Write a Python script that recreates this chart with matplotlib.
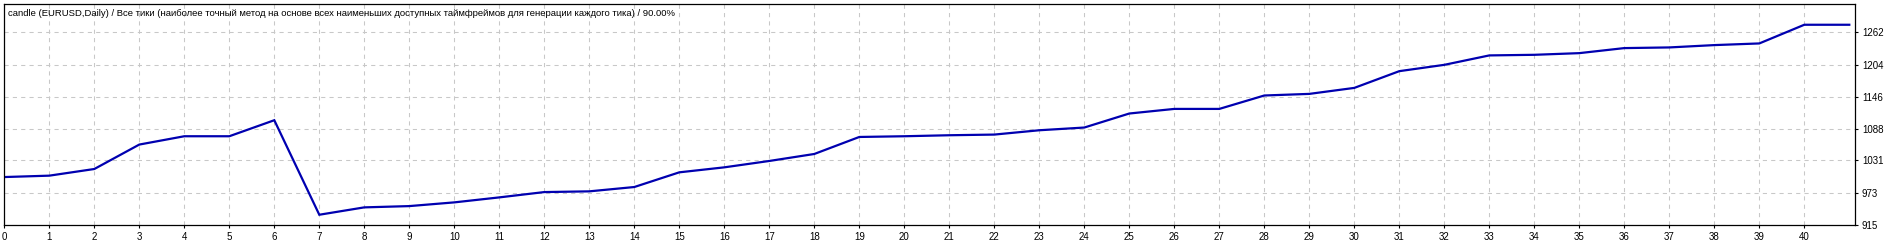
import matplotlib
matplotlib.use("Agg")
import matplotlib.pyplot as plt

# Data
passes = list(range(0, 42))
balance = [1001, 1003.5, 1015.5, 1059.6, 1074.6, 1074.6, 1103.5, 933, 946.3, 948.6,
           955.3, 964.3, 973.9, 975.2, 983, 1009.5, 1018.5, 1030, 1042.6, 1073.3,
           1074.6, 1076.4, 1077.6, 1085.4, 1090.3, 1115.6, 1123.9, 1123.9, 1148.1, 1151,
           1161.8, 1192, 1203.4, 1220.4, 1221.5, 1224.5, 1233.6, 1234.8, 1239, 1242,
           1275.7, 1275.7]
x_ticks = list(range(0, 41))
y_ticks = [915, 973, 1031, 1088, 1146, 1204, 1262]
title = ("candle (EURUSD,Daily) / Все тики (наиболее точный метод на основе всех "
         "наименьших доступных таймфреймов для генерации каждого тика) / 90.00%")

W, H = 1900, 242
fig = plt.figure(figsize=(W / 100, H / 100), dpi=100)
left, right, top, bottom = 4.3, 1855, 4.3, 225
ax = fig.add_axes([left / W, (H - bottom) / H, (right - left) / W, (bottom - top) / H])

ax.plot(passes, balance, color="#0000B0", lw=1.6, solid_joinstyle="miter")

ax.set_xlim(0, (right - left) / 45.0)
ax.set_ylim(914.5, 1312.6)

ax.set_xticks(x_ticks)
ax.set_xticklabels([str(t) for t in x_ticks])
ax.set_yticks(y_ticks)
ax.set_yticklabels([str(t) for t in y_ticks])

ax.yaxis.tick_right()
ax.tick_params(axis="y", direction="out", length=2, width=0.8, pad=3,
               labelsize=7, colors="black")
ax.tick_params(axis="x", direction="out", length=2, width=0.8, pad=3,
               labelsize=7, colors="black")
for lab in ax.get_xticklabels() + ax.get_yticklabels():
    lab.set_family("Liberation Sans")

ax.grid(True, color="#C8C8C8", linestyle=(0, (4, 4)), linewidth=0.75)
ax.set_axisbelow(True)
for s in ax.spines.values():
    s.set_color("black")
    s.set_linewidth(0.9)

ax.text(0.0022, 0.978, title, transform=ax.transAxes, ha="left", va="top",
        fontsize=6.8, family="Liberation Sans", color="black")

fig.savefig("out.png", dpi=100, facecolor="white")
